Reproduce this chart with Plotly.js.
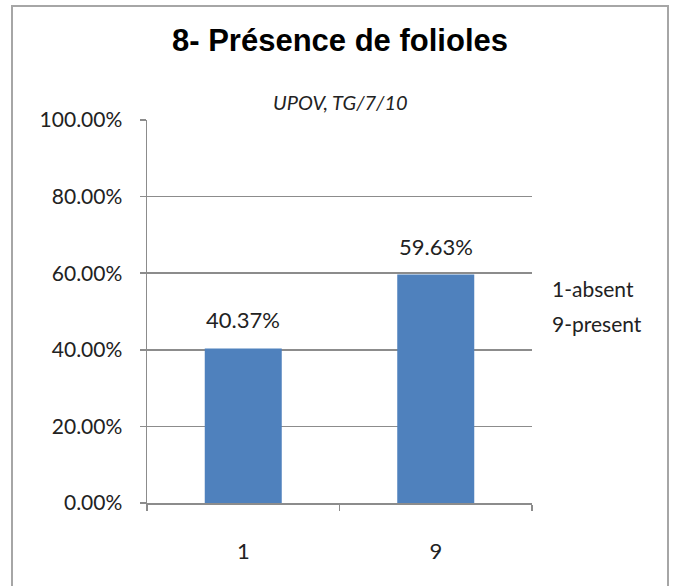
<!DOCTYPE html>
<html>
<head>
<meta charset="utf-8">
<script src="https://cdn.plot.ly/plotly-3.0.1.min.js"></script>
<style>html,body{margin:0;padding:0;background:#fff;}#chart{width:679px;height:586px;}</style>
</head>
<body>
<div id="chart"></div>
<script>
const categories = ["1", "9"];
const values = [0.4037, 0.5963];
const yTicks = [0, 0.2, 0.4, 0.6, 0.8, 1.0];
const chartTitle = "8- Présence de folioles";
const subTitle = "UPOV, TG/7/10";
const legendLines = ["1-absent", "9-present"];

const W = 679, H = 586, L = 147, R = 147, T = 120, B = 83;
const pw = W - L - R, ph = H - T - B;
const px = v => (v - L) / pw;
const py = v => (H - B - v) / ph;
const font = "Lato, 'Open Sans', sans-serif";
const gray = "#8c8c8c";

const data = [{
  type: "bar",
  x: categories,
  y: values,
  marker: {color: "#4f81bd"},
  hoverinfo: "none"
}];

const annotations = [
  {xref: "paper", yref: "paper", x: px(340), y: py(40), yanchor: "middle", text: "<b>" + chartTitle + "</b>",
   showarrow: false, font: {family: "'Liberation Sans', Arial, sans-serif", size: 31, color: "#000"}},
  {xref: "paper", yref: "paper", x: px(340), y: py(102), yanchor: "middle", text: "<i>" + subTitle + "</i>",
   showarrow: false, font: {family: font, size: 20, color: "#222"}}
];
legendLines.forEach((t, i) => annotations.push({
  xref: "paper", yref: "paper", x: px(550), y: py(288 + 35 * i), xanchor: "left", yanchor: "middle",
  text: t, showarrow: false, font: {family: font, size: 21, color: "#222"}
}));
categories.forEach((c, i) => annotations.push({
  xref: "x", yref: "y", x: i, y: values[i], yanchor: "bottom", yshift: 13,
  text: (values[i] * 100).toFixed(2) + "%", showarrow: false,
  font: {family: font, size: 22, color: "#222"}
}));

const layout = {
  width: W, height: H,
  margin: {l: L, r: R, t: T, b: B},
  paper_bgcolor: "#fff", plot_bgcolor: "#fff",
  showlegend: false,
  bargap: 0.6,
  font: {family: font, color: "#222"},
  xaxis: {
    type: "category",
    range: [-0.5, categories.length - 0.5],
    tickson: "boundaries",
    ticks: "outside", ticklen: 6, tickcolor: gray, tickwidth: 1.5,
    showline: true, linecolor: gray, linewidth: 1.5,
    showgrid: false,
    tickfont: {family: font, size: 22, color: "#222"},
    ticklabelstandoff: 28
  },
  yaxis: {
    range: [0, 1],
    tickvals: yTicks,
    tickformat: ".2%",
    ticks: "outside", ticklen: 6, tickcolor: gray, tickwidth: 1.5,
    showline: true, linecolor: gray, linewidth: 1.5,
    showgrid: true, gridcolor: gray, gridwidth: 1.5,
    zeroline: false,
    tickfont: {family: font, size: 21, color: "#222"},
    ticklabelstandoff: 13
  },
  shapes: [{
    type: "rect", xref: "paper", yref: "paper",
    x0: px(12), x1: px(668), y0: py(600), y1: py(6),
    line: {color: "#a6a6a6", width: 2}, fillcolor: "rgba(0,0,0,0)", layer: "below"
  }],
  annotations: annotations
};

Plotly.newPlot("chart", data, layout, {staticPlot: true, displayModeBar: false});
</script>
</body>
</html>
